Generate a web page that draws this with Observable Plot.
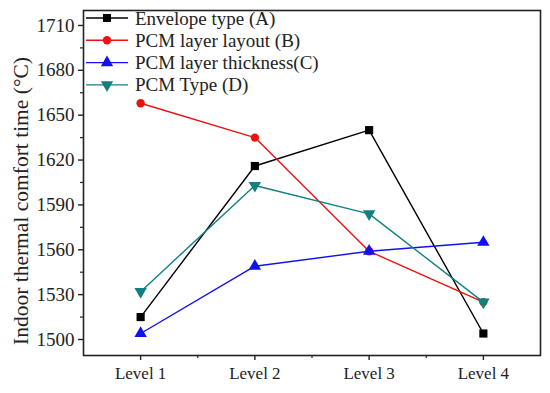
<!DOCTYPE html>
<html><head><meta charset="utf-8">
<script src="https://cdn.jsdelivr.net/npm/d3@7"></script>
<script src="https://cdn.jsdelivr.net/npm/@observablehq/plot@0.6"></script>
<style>body{margin:0;background:#fff}#c{position:relative;width:550px;height:393px}</style>
</head><body><div id="c"></div>
<script>
const levels = [1, 2, 3, 4];
const levelLabels = ["Level 1", "Level 2", "Level 3", "Level 4"];
const seriesNames = ["Envelope type (A)", "PCM layer layout (B)", "PCM layer thickness(C)", "PCM Type (D)"];
const seriesA = [1515, 1616, 1640, 1504];
const seriesB = [1658, 1635, 1559, 1525];
const seriesC = [1504, 1549, 1559, 1565];
const seriesD = [1532, 1603, 1584, 1525];
const yTicks = [1500, 1530, 1560, 1590, 1620, 1650, 1680, 1710];
const yMinor = [1515, 1545, 1575, 1605, 1635, 1665, 1695];
const xMinor = [1.5, 2.5, 3.5];
const colors = ["#000000", "#ee1111", "#1111ee", "#118080"];
const symbols = ["square", "circle", "triangle", "triangle"];
const rotations = [0, 0, 0, 180];

const allSeries = [seriesA, seriesB, seriesC, seriesD];
const data = [];
allSeries.forEach((s, i) => s.forEach((v, j) => data.push({level: levels[j], value: v, k: i})));

const font = "'Liberation Serif', 'Times New Roman', serif";
const marks = [
  Plot.frame({stroke: "#222", strokeWidth: 1.6}),
  Plot.axisY(yTicks, {tickSize: 5, tickPadding: 4, fontSize: 19, label: null, tickFormat: "d", stroke: "#222", strokeWidth: 1.4}),
  Plot.axisY(yMinor, {tickSize: 3, text: null, label: null, stroke: "#222", strokeWidth: 1.2}),
  Plot.axisX(levels, {tickSize: 5, tickPadding: 6, fontSize: 17, label: null, tickFormat: d => levelLabels[d - 1], stroke: "#222", strokeWidth: 1.4}),
  Plot.axisX(xMinor, {tickSize: 3, text: null, label: null, stroke: "#222", strokeWidth: 1.2}),
];
allSeries.forEach((s, i) => {
  const d = data.filter(r => r.k === i);
  marks.push(Plot.line(d, {x: "level", y: "value", stroke: colors[i], strokeWidth: 1.4}));
  marks.push(Plot.dot(d, {x: "level", y: "value", symbol: () => symbols[i], fill: colors[i], r: i === 1 ? 4.2 : 4.6, rotate: rotations[i]}));
});

const chart = Plot.plot({
  width: 550, height: 393,
  marginLeft: 83, marginRight: 10, marginTop: 10, marginBottom: 38,
  style: {fontFamily: font, color: "#222", background: "#fff"},
  x: {domain: [0.5, 4.5], axis: null},
  y: {domain: [1489.3, 1720], axis: null},
  symbol: {type: "identity"},
  marks
});
const svg = d3.select(chart);
// y-axis title
svg.append("text")
  .attr("transform", "translate(21,201) rotate(-90)")
  .attr("text-anchor", "middle").attr("dominant-baseline", "central")
  .attr("font-family", font).attr("font-size", 21.5).attr("fill", "#222")
  .text("Indoor thermal comfort time (°C)");
// legend
const lg = svg.append("g");
seriesNames.forEach((name, i) => {
  const y = 18 + i * 22.3;
  const g = lg.append("g").attr("transform", `translate(0,${y})`);
  g.append("line").attr("x1", 86).attr("x2", 128).attr("stroke", colors[i]).attr("stroke-width", 1.4);
  const sym = d3.symbol().type(i === 0 ? d3.symbolSquare : i === 1 ? d3.symbolCircle : d3.symbolTriangle).size(i === 1 ? 55 : 65);
  g.append("path").attr("d", sym()).attr("fill", colors[i])
    .attr("transform", `translate(107,0) rotate(${rotations[i]})`);
  g.append("text").attr("x", 135).attr("text-anchor", "start").attr("dominant-baseline", "central")
    .attr("font-family", font).attr("font-size", 19).attr("fill", "#222").text(name);
});
document.getElementById("c").appendChild(chart);
</script></body></html>
